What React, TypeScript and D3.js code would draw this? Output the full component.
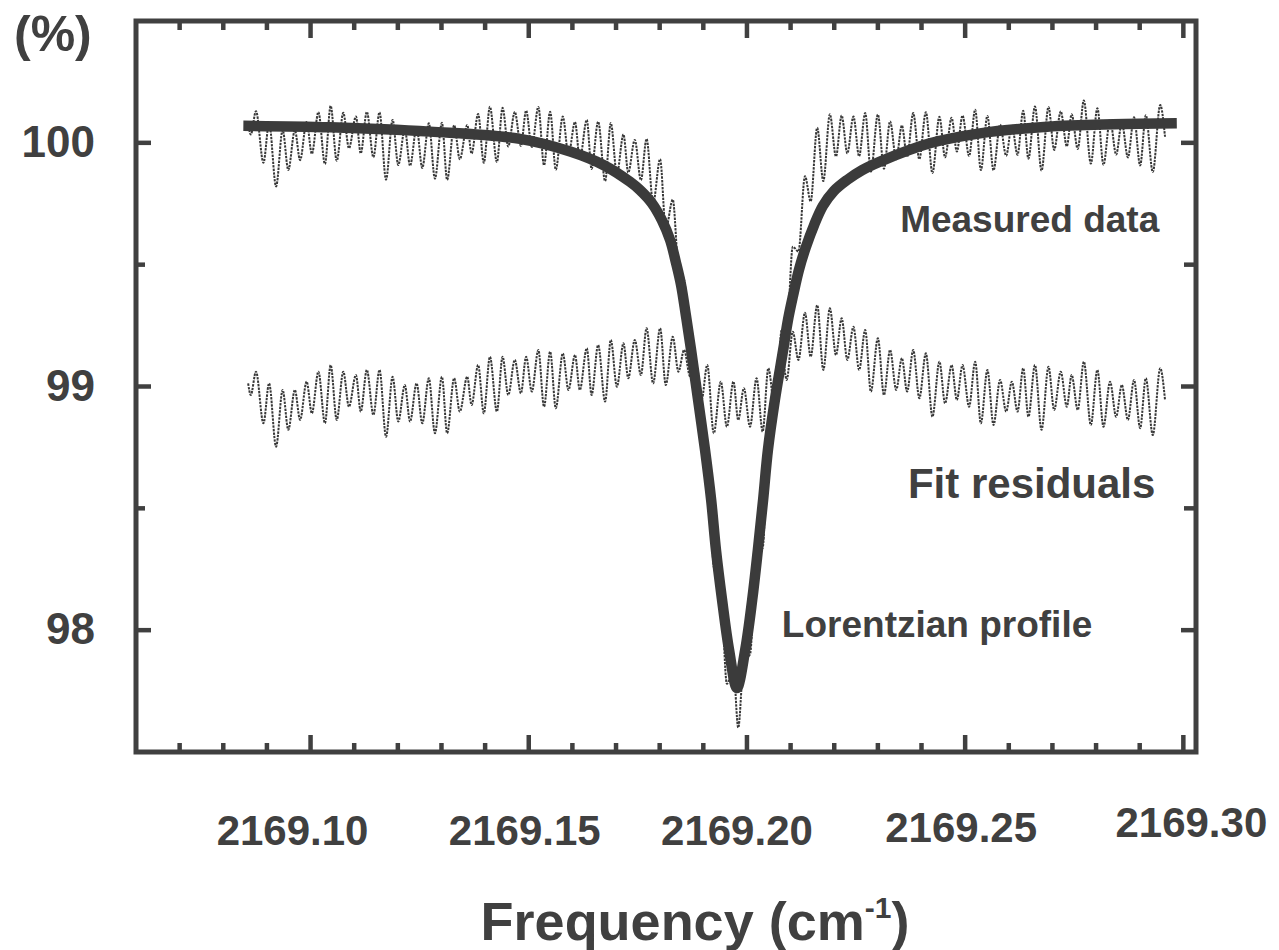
import React, { useRef, useEffect } from 'react';
import * as d3 from 'd3';

// Lorentzian fit (frequency in cm-1, transmittance in %)
const fitFreq = [
  2169.0846, 2169.1045, 2169.1274, 2169.1480, 2169.1595, 2169.1671, 2169.1732, 2169.1755, 2169.1782,
  2169.1805, 2169.1824, 2169.1837, 2169.1849, 2169.1860, 2169.1872, 2169.1888, 2169.1904, 2169.1918,
  2169.1929, 2169.1943, 2169.1959, 2169.1977, 2169.1996, 2169.2012, 2169.2025, 2169.2037, 2169.2048,
  2169.2064, 2169.2083, 2169.2094, 2169.2106, 2169.2119, 2169.2135, 2169.2154, 2169.2174, 2169.2199,
  2169.2229, 2169.2264, 2169.2305, 2169.2419, 2169.2534, 2169.2688, 2169.2839, 2169.2985,
];
const fitValue = [
  100.070, 100.064, 100.046, 100.016, 99.964, 99.909, 99.840, 99.806, 99.753,
  99.683, 99.601, 99.511, 99.417, 99.293, 99.150, 98.945, 98.739, 98.534,
  98.329, 98.124, 97.919, 97.763, 97.919, 98.124, 98.329, 98.534, 98.739,
  98.945, 99.150, 99.273, 99.376, 99.478, 99.572, 99.663, 99.741, 99.802,
  99.847, 99.888, 99.923, 99.998, 100.039, 100.066, 100.076, 100.080,
];

// peaks and troughs of the two dotted traces, same frequency grid for both
const traceFreq = [
  2169.0857, 2169.0863, 2169.0875, 2169.0892, 2169.0905, 2169.0921, 2169.0936, 2169.0949, 2169.0964, 2169.0976,
  2169.0991, 2169.1003, 2169.1018, 2169.1033, 2169.1046, 2169.1060, 2169.1075, 2169.1088, 2169.1104, 2169.1115,
  2169.1129, 2169.1144, 2169.1158, 2169.1173, 2169.1188, 2169.1201, 2169.1216, 2169.1228, 2169.1243, 2169.1256,
  2169.1271, 2169.1285, 2169.1301, 2169.1313, 2169.1329, 2169.1342, 2169.1359, 2169.1369, 2169.1384, 2169.1397,
  2169.1411, 2169.1427, 2169.1440, 2169.1453, 2169.1468, 2169.1482, 2169.1494,
  2169.1507, 2169.1522, 2169.1535, 2169.1549, 2169.1562, 2169.1578, 2169.1591, 2169.1606, 2169.1617, 2169.1633,
  2169.1644, 2169.1659, 2169.1675, 2169.1688, 2169.1702, 2169.1717, 2169.1728, 2169.1743, 2169.1757, 2169.1770,
  2169.1785, 2169.1801, 2169.1814, 2169.1830, 2169.1843, 2169.1856, 2169.1870, 2169.1885, 2169.1896, 2169.1909,
  2169.1924, 2169.1940, 2169.1954, 2169.1969, 2169.1980, 2169.1993, 2169.2007, 2169.2022, 2169.2036, 2169.2049,
  2169.2064, 2169.2080, 2169.2091, 2169.2105,
  2169.2118, 2169.2133, 2169.2146, 2169.2161, 2169.2175, 2169.2190, 2169.2204, 2169.2217, 2169.2230, 2169.2244,
  2169.2257, 2169.2271, 2169.2284, 2169.2300, 2169.2314, 2169.2328, 2169.2342, 2169.2355, 2169.2367, 2169.2381,
  2169.2395, 2169.2410, 2169.2425, 2169.2441, 2169.2454, 2169.2469, 2169.2481, 2169.2494, 2169.2509, 2169.2523,
  2169.2536, 2169.2551, 2169.2565, 2169.2580, 2169.2594, 2169.2607, 2169.2620, 2169.2633, 2169.2645, 2169.2660,
  2169.2675, 2169.2691, 2169.2704, 2169.2719, 2169.2733, 2169.2744, 2169.2758, 2169.2772, 2169.2788, 2169.2803,
  2169.2817, 2169.2832, 2169.2846, 2169.2859, 2169.2873, 2169.2887, 2169.2901, 2169.2914, 2169.2930, 2169.2947,
  2169.2958,
];

const measuredValue = [
  100.083, 100.034, 100.130, 99.918, 100.081, 99.821, 100.053, 99.889, 100.052, 99.929,
  100.086, 99.955, 100.126, 99.913, 100.152, 99.926, 100.123, 99.978, 100.108, 99.957,
  100.127, 99.941, 100.125, 99.849, 100.094, 99.909, 100.057, 99.906, 100.062, 99.897,
  100.080, 99.853, 100.082, 99.848, 100.072, 99.933, 100.073, 99.956, 100.118, 99.918,
  100.148, 99.921, 100.144, 99.985, 100.127, 99.987, 100.132,
  99.983, 100.147, 99.908, 100.128, 99.890, 100.108, 99.952, 100.085, 99.934, 100.094,
  99.893, 100.087, 99.843, 100.081, 99.873, 100.034, 99.878, 100.012, 99.847, 100.016,
  99.754, 99.933, 99.646, 99.767, 99.485, 99.437, 99.190, 99.059, 98.781, 98.758,
  98.260, 98.188, 97.780, 97.840, 97.600, 97.880, 97.900, 98.331, 98.337, 98.823,
  98.849, 99.234, 99.218, 99.574,
  99.554, 99.863, 99.760, 100.062, 99.843, 100.117, 99.944, 100.112, 99.957, 100.108,
  99.945, 100.122, 99.882, 100.116, 99.894, 100.088, 99.933, 100.071, 99.943, 100.122,
  99.933, 100.126, 99.876, 100.107, 99.941, 100.103, 99.964, 100.112, 99.946, 100.136,
  99.888, 100.110, 99.887, 100.074, 99.947, 100.072, 99.951, 100.132, 99.935, 100.149,
  99.886, 100.147, 99.971, 100.129, 99.986, 100.117, 99.975, 100.174, 99.915, 100.142,
  99.910, 100.096, 99.952, 100.083, 99.940, 100.105, 99.907, 100.113, 99.880, 100.155,
  100.025,
];

// residuals, plotted around 99 %
const residualValue = [
  99.013, 98.965, 99.061, 98.849, 99.013, 98.753, 98.986, 98.822, 98.986, 98.863,
  99.020, 98.890, 99.061, 98.849, 99.088, 98.863, 99.061, 98.917, 99.047, 98.897,
  99.068, 98.883, 99.068, 98.794, 99.040, 98.856, 99.006, 98.856, 99.013, 98.849,
  99.034, 98.808, 99.040, 98.808, 99.034, 98.897, 99.040, 98.924, 99.088, 98.890,
  99.122, 98.897, 99.122, 98.965, 99.109, 98.972, 99.122,
  98.979, 99.150, 98.917, 99.143, 98.911, 99.136, 98.986, 99.129, 98.986, 99.157,
  98.965, 99.170, 98.938, 99.191, 98.999, 99.177, 99.034, 99.191, 99.047, 99.239,
  99.013, 99.239, 99.006, 99.204, 99.061, 99.150, 99.040, 99.081, 98.945, 99.088,
  98.808, 99.020, 98.835, 99.020, 98.863, 98.993, 98.835, 99.034, 98.815, 99.075,
  98.904, 99.136, 99.027, 99.225,
  99.109, 99.303, 99.122, 99.334, 99.068, 99.321, 99.129, 99.280, 99.109, 99.245,
  99.068, 99.232, 98.979, 99.198, 98.965, 99.150, 98.986, 99.116, 98.979, 99.150,
  98.952, 99.136, 98.876, 99.102, 98.931, 99.088, 98.945, 99.088, 98.917, 99.102,
  98.849, 99.068, 98.842, 99.027, 98.897, 99.020, 98.897, 99.075, 98.876, 99.088,
  98.822, 99.081, 98.904, 99.061, 98.917, 99.047, 98.904, 99.102, 98.842, 99.068,
  98.835, 99.020, 98.876, 99.006, 98.863, 99.027, 98.829, 99.034, 98.801, 99.075,
  98.945,
];

const xMajor = [2169.10, 2169.15, 2169.20, 2169.25, 2169.30];
const xTickLabels = ['2169.10', '2169.15', '2169.20', '2169.25', '2169.30'];
const yMajor = [98, 99, 100];
const yTickLabels = ['98', '99', '100'];
const yMinor = [98.5, 99.5];

const annotations = [
  { text: 'Measured data', freq: 2169.2351, value: 99.634, size: 37 },
  { text: 'Fit residuals', freq: 2169.2369, value: 98.542, size: 42 },
  { text: 'Lorentzian profile', freq: 2169.2080, value: 97.972, size: 37 },
];

// the scanned labels sit a little off their ticks
const labelNudge = [[-18, 0], [-4, 0], [-10, 0], [-4, -3], [8, -8]];

const INK = '#404040';
const FONT = '"Liberation Sans", Arial, sans-serif';

function SpectrumChart() {
  const svgRef = useRef<SVGSVGElement>(null);

  useEffect(() => {
    const svg = d3.select(svgRef.current);
    svg.selectAll('*').remove();

    const left = 136, right = 1196, top = 21, bottom = 752;

    const x = d3.scaleLinear().domain([2169.06, 2169.3029]).range([left, right]);
    const y = d3.scaleLinear().domain([97.5, 100.5]).range([bottom, top]);

    const g = svg.append('g');

    const trace = d3.line<number>()
      .x((d, i) => x(traceFreq[i]))
      .y(d => y(d))
      .curve(d3.curveMonotoneX);

    // residuals
    g.append('path')
      .attr('d', trace(residualValue))
      .attr('fill', 'none')
      .attr('stroke', '#383838')
      .attr('stroke-width', 2)
      .attr('stroke-dasharray', '2.4 1.1');

    // measured data
    g.append('path')
      .attr('d', trace(measuredValue))
      .attr('fill', 'none')
      .attr('stroke', '#383838')
      .attr('stroke-width', 2)
      .attr('stroke-dasharray', '2.4 1.1');

    // fitted profile
    const fitLine = d3.line<number>()
      .x((d, i) => x(fitFreq[i]))
      .y(d => y(d))
      .curve(d3.curveCatmullRom.alpha(0.5));

    g.append('path')
      .attr('d', fitLine(fitValue))
      .attr('fill', 'none')
      .attr('stroke', '#3b3b3b')
      .attr('stroke-width', 10.5)
      .attr('stroke-linejoin', 'round');

    // frame
    g.append('rect')
      .attr('x', left)
      .attr('y', top)
      .attr('width', right - left)
      .attr('height', bottom - top)
      .attr('fill', 'none')
      .attr('stroke', INK)
      .attr('stroke-width', 5);

    const ticks = g.append('g').attr('stroke', INK).attr('stroke-width', 4.5);

    const xMinor = d3.range(7, 31).map(k => 2169 + k / 100).filter(v => !xMajor.some(m => Math.abs(m - v) < 1e-6));

    xMinor.forEach(v => {
      ticks.append('line').attr('x1', x(v)).attr('x2', x(v)).attr('y1', bottom).attr('y2', bottom - 9);
      ticks.append('line').attr('x1', x(v)).attr('x2', x(v)).attr('y1', top).attr('y2', top + 9);
    });
    xMajor.forEach(v => {
      ticks.append('line').attr('x1', x(v)).attr('x2', x(v)).attr('y1', bottom).attr('y2', bottom - 17);
      ticks.append('line').attr('x1', x(v)).attr('x2', x(v)).attr('y1', top).attr('y2', top + 17);
    });
    yMajor.forEach(v => {
      ticks.append('line').attr('x1', left).attr('x2', left + 15).attr('y1', y(v)).attr('y2', y(v));
      ticks.append('line').attr('x1', right).attr('x2', right - 15).attr('y1', y(v)).attr('y2', y(v));
    });
    yMinor.forEach(v => {
      ticks.append('line').attr('x1', left).attr('x2', left + 9).attr('y1', y(v)).attr('y2', y(v));
      ticks.append('line').attr('x1', right).attr('x2', right - 12).attr('y1', y(v)).attr('y2', y(v));
    });

    const text = g.append('g')
      .attr('font-family', FONT)
      .attr('font-weight', 'bold')
      .attr('fill', INK);

    xMajor.forEach((v, i) => {
      text.append('text')
        .attr('x', x(v) + labelNudge[i][0])
        .attr('y', 845 + labelNudge[i][1])
        .attr('text-anchor', 'middle')
        .attr('font-size', 42)
        .text(xTickLabels[i]);
    });

    yMajor.forEach((v, i) => {
      text.append('text')
        .attr('x', 95)
        .attr('y', y(v) + 14)
        .attr('text-anchor', 'end')
        .attr('font-size', 44)
        .text(yTickLabels[i]);
    });

    text.append('text')
      .attr('x', 14)
      .attr('y', 51)
      .attr('font-size', 50)
      .text('(%)');

    const title = text.append('text')
      .attr('x', 695)
      .attr('y', 940)
      .attr('text-anchor', 'middle')
      .attr('font-size', 54);
    title.append('tspan').text('Frequency (cm');
    title.append('tspan').attr('font-size', 30).attr('dy', -22).text('-1');
    title.append('tspan').attr('dy', 22).text(')');

    annotations.forEach(a => {
      text.append('text')
        .attr('x', x(a.freq))
        .attr('y', y(a.value))
        .attr('font-size', a.size)
        .text(a.text);
    });
  }, []);

  return <svg ref={svgRef} width={1279} height={950} style={{ display: 'block' }} />;
}

export default function App() {
  return (
    <div style={{ position: 'absolute', left: 0, top: 0, background: '#fff' }}>
      <SpectrumChart />
    </div>
  );
}
